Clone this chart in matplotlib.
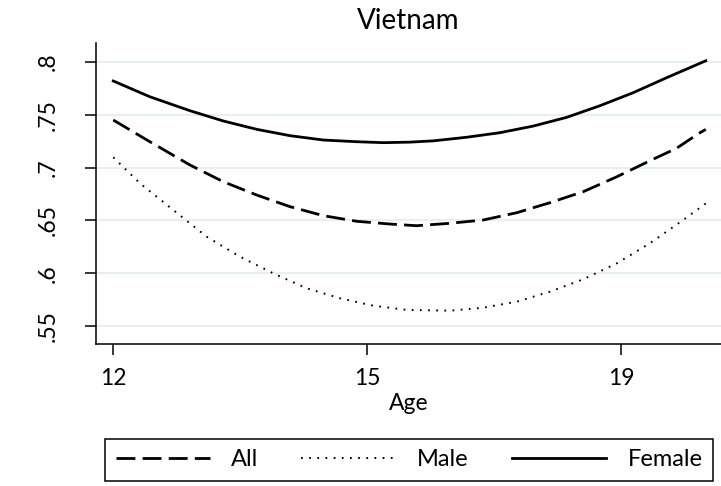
import matplotlib
matplotlib.use("Agg")
import matplotlib.pyplot as plt

plt.rcParams['font.family'] = ['Lato', 'DejaVu Sans']

# x positions along the age axis (tick positions 0,1,2 labelled 12,15,19)
x_tick_pos = [0, 1, 2]
x_tick_labels = ['12', '15', '19']
y_ticks = [0.55, 0.60, 0.65, 0.70, 0.75, 0.80]
y_tick_labels = ['.55', '.6', '.65', '.7', '.75', '.8']

female_x = [0.000, 0.144, 0.302, 0.433, 0.565, 0.696, 0.827, 0.958, 1.063, 1.168,
            1.260, 1.391, 1.522, 1.654, 1.785, 1.916, 2.047, 2.179, 2.333]
female_y = [0.7818, 0.7669, 0.7537, 0.7440, 0.7361, 0.7301, 0.7260, 0.7244, 0.7235, 0.7240,
            0.7252, 0.7286, 0.7329, 0.7392, 0.7474, 0.7584, 0.7707, 0.7849, 0.8009]

all_x = [0.000, 0.144, 0.302, 0.433, 0.565, 0.696, 0.827, 0.958, 1.089, 1.194,
         1.326, 1.457, 1.589, 1.720, 1.851, 1.983, 2.113, 2.218, 2.306, 2.333]
all_y = [0.7449, 0.7244, 0.7024, 0.6866, 0.6740, 0.6630, 0.6545, 0.6492, 0.6466, 0.6450,
         0.6473, 0.6504, 0.6573, 0.6668, 0.6772, 0.6913, 0.7064, 0.7182, 0.7323, 0.7360]

male_x = [0.000, 0.105, 0.236, 0.368, 0.499, 0.630, 0.761, 0.893, 1.024, 1.156,
          1.326, 1.457, 1.589, 1.720, 1.851, 1.983, 2.113, 2.244, 2.333]
male_y = [0.7097, 0.6851, 0.6599, 0.6346, 0.6157, 0.6000, 0.5859, 0.5764, 0.5694, 0.5654,
          0.5647, 0.5675, 0.5732, 0.5827, 0.5944, 0.6095, 0.6284, 0.6504, 0.6660]

title = 'Vietnam'
x_label = 'Age'
legend_labels = ['All', 'Male', 'Female']

fig = plt.figure(figsize=(7.21, 4.86), dpi=100)
ax = fig.add_axes([96 / 721, 1 - 344 / 486, 625 / 721, 301 / 486])

for yt in y_ticks:
    ax.axhline(yt, color='#e8eff1', lw=1.5, zorder=0)

l_all, = ax.plot(all_x, all_y, color='black', lw=2.0, linestyle=(0, (6.8, 2.6)),
                 solid_capstyle='butt', dash_capstyle='butt')
l_male, = ax.plot(male_x, male_y, color='black', lw=1.4, linestyle=(0, (0.9, 3.3)))
l_fem, = ax.plot(female_x, female_y, color='black', lw=2.0)

ax.set_xlim(-0.068, 2.393)
ax.set_ylim(0.5332, 0.8177)

ax.set_xticks(x_tick_pos)
ax.set_xticklabels(x_tick_labels)
ax.set_yticks(y_ticks)
ax.set_yticklabels(y_tick_labels, rotation=90, va='center')

ax.spines['top'].set_visible(False)
ax.spines['right'].set_visible(False)
for s in ('left', 'bottom'):
    ax.spines[s].set_linewidth(1.1)
ax.tick_params(axis='both', direction='out', length=8, width=1.1, labelsize=16.5, colors='black')
ax.tick_params(axis='x', pad=9)
ax.tick_params(axis='y', pad=19)

ax.set_title(title, fontsize=20, pad=10)
ax.set_xlabel(x_label, fontsize=16.5, labelpad=3)

leg = fig.legend([l_all, l_male, l_fem], legend_labels, ncol=3, loc='center',
                 bbox_to_anchor=(105 / 721, 1 - 485 / 486, 608 / 721, 50 / 486),
                 mode='expand', borderaxespad=0, fontsize=17, handlelength=4.0,
                 handletextpad=0.9, fancybox=False, framealpha=1, borderpad=0.45)
leg.get_frame().set_edgecolor('black')
leg.get_frame().set_linewidth(1.1)

fig.savefig('out.png', dpi=100)
